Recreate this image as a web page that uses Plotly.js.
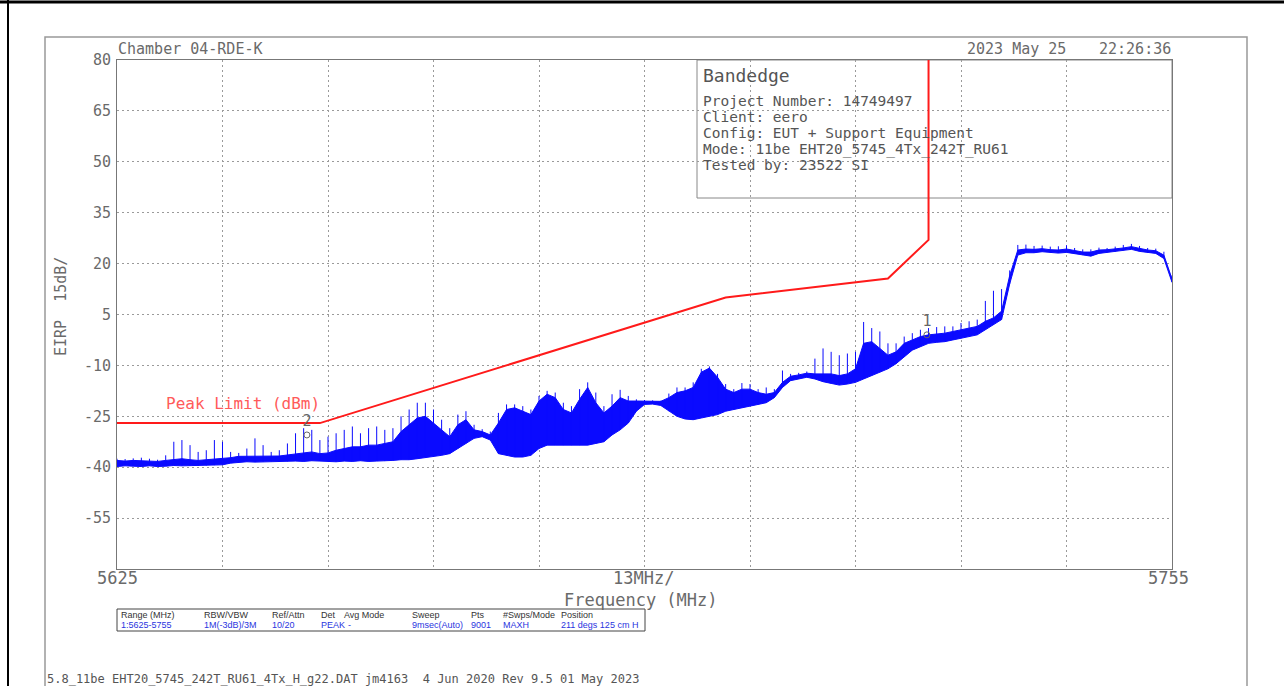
<!DOCTYPE html>
<html><head><meta charset="utf-8">
<script src="https://cdn.plot.ly/plotly-3.0.1.min.js"></script>
<style>html,body{margin:0;padding:0;background:#fff;overflow:hidden}#chart{width:1284px;height:686px}</style>
</head><body><div id="chart"></div>
<script>
// ---- data ----
const freq = [5625,5626,5627,5628,5629,5630,5631,5632,5633,5634,
5635,5636,5637,5638,5639,5640,5641,5642,5643,5644,
5645,5646,5647,5648,5649,5650,5651,5652,5653,5654,
5655,5656,5657,5658,5659,5660,5661,5662,5663,5664,
5665,5666,5667,5668,5669,5670,5671,5672,5673,5674,
5675,5676,5677,5678,5679,5680,5681,5682,5683,5684,
5685,5686,5687,5688,5689,5690,5691,5692,5693,5694,
5695,5696,5697,5698,5699,5700,5701,5702,5703,5704,
5705,5706,5707,5708,5709,5710,5711,5712,5713,5714,
5715,5716,5717,5718,5719,5720,5721,5722,5723,5724,
5725,5726,5727,5728,5729,5730,5731,5732,5733,5734,
5735,5736,5737,5738,5739,5740,5741,5742,5743,5744,
5745,5746,5747,5748,5749,5750,5751,5752,5753,5754,5755];
const floorLvl = [-39.8,-39.6,-39.7,-39.8,-39.6,-39.8,-39.7,-39.5,-39.6,-39.5,
-39.6,-39.5,-39.4,-39.3,-38.8,-38.5,-38.4,-38.5,-38.4,-38.3,
-38.4,-38.3,-38.2,-38.3,-38.1,-38.2,-38.3,-38.4,-38.2,-38.3,
-38.1,-38.3,-38.2,-38.2,-38.0,-37.8,-37.8,-37.5,-37.2,-36.8,
-36.5,-36.0,-34.5,-33.0,-31.5,-31.0,-32.0,-36.0,-36.5,-37.0,
-37.0,-36.5,-34.5,-33.5,-33.5,-33.5,-33.5,-33.5,-33.5,-33.0,
-32.5,-30.5,-29.0,-27.0,-23.5,-21.5,-21.4,-21.8,-23.5,-25.0,
-25.8,-26.0,-25.5,-25.0,-24.5,-23.5,-23.0,-22.5,-22.0,-21.5,
-21.0,-19.5,-16.5,-14.5,-14.0,-13.5,-14.0,-14.8,-15.3,-15.8,
-15.5,-15.0,-14.0,-13.0,-12.0,-11.0,-9.5,-7.5,-5.5,-4.5,
-3.5,-3.2,-3.0,-2.5,-2.0,-1.5,-1.0,0.5,2.0,3.5,
14.0,22.5,23.2,23.2,23.5,23.2,23.1,23.3,23.0,22.5,
22.2,23.0,23.3,23.5,23.9,24.2,23.6,23.2,23.0,21.5,14.5];
const bodyLvl = [-38.0,-38.2,-38.0,-38.1,-38.0,-38.3,-38.0,-37.8,-37.5,-37.8,
-38.0,-37.8,-37.6,-37.5,-37.2,-36.8,-36.8,-36.6,-36.8,-36.8,
-36.7,-36.4,-36.0,-35.8,-35.5,-36.0,-35.8,-35.0,-34.5,-34.0,
-34.0,-33.5,-33.5,-33.0,-32.5,-29.5,-27.5,-25.5,-25.0,-27.0,
-29.0,-31.0,-27.5,-26.0,-29.0,-29.5,-30.5,-27.0,-23.0,-22.5,
-23.5,-24.5,-20.5,-18.5,-19.5,-23.0,-24.0,-20.0,-16.5,-21.0,
-24.0,-22.0,-19.5,-20.5,-20.5,-20.6,-20.7,-20.6,-19.5,-18.0,
-17.5,-16.5,-12.0,-10.8,-13.5,-17.0,-18.0,-17.0,-17.0,-18.0,
-18.5,-18.0,-15.0,-13.2,-12.8,-12.3,-12.5,-12.5,-12.5,-13.0,
-12.5,-11.0,-3.5,-3.0,-5.0,-7.0,-6.0,-3.5,-2.5,-1.5,
-1.0,-0.8,-0.5,0.0,0.5,1.0,1.5,3.0,4.0,6.0,
16.5,24.0,24.3,24.2,24.4,24.1,24.0,24.3,23.9,23.4,
23.4,24.0,24.1,24.3,24.6,25.0,24.5,24.0,23.8,22.5,15.5];
const peakLvl = [-37.5,-37.6,-37.4,-37.2,-37.5,-37.8,-36.5,-32.5,-32.0,-33.5,
-35.5,-35.0,-32.0,-32.5,-35.5,-35.8,-34.5,-31.5,-33.5,-35.5,
-35.0,-33.0,-30.0,-28.5,-29.0,-32.0,-31.0,-30.0,-29.0,-28.0,
-30.0,-28.5,-28.0,-29.0,-28.5,-25.0,-23.0,-21.0,-21.0,-23.0,
-26.0,-28.5,-24.5,-23.5,-27.5,-28.8,-29.5,-24.0,-21.5,-21.5,
-22.0,-23.0,-19.0,-17.5,-18.0,-21.0,-22.0,-17.0,-15.0,-18.0,
-22.0,-18.5,-17.2,-19.0,-20.0,-20.2,-20.3,-20.4,-18.3,-16.5,
-16.5,-15.0,-11.0,-10.3,-12.5,-15.5,-17.0,-15.2,-15.5,-17.0,
-16.5,-17.0,-11.5,-12.5,-12.2,-11.8,-8.0,-5.0,-6.0,-7.0,
-6.5,-6.0,2.8,1.0,0.0,-3.5,-3.5,-1.5,-0.5,0.5,
1.0,1.3,1.5,1.5,2.5,3.0,3.5,9.0,12.0,12.5,
18.0,25.5,25.6,25.2,25.3,25.0,25.1,25.4,24.6,24.2,
24.2,24.7,24.6,25.0,25.5,25.8,25.2,24.6,24.4,23.5,16.5];
const limitFreq = [5625, 5650, 5700, 5720, 5725, 5725];
const limitLvl = [-27, -27, 10, 15.6, 27, 80];
const markerFreq = [5724.8, 5648.4];
const markerLvl = [-1.0, -30.5];
const markerLabel = ['1', '2'];
const yTickVals = [80, 65, 50, 35, 20, 5, -10, -25, -40, -55];
const xGridVals = [5638, 5651, 5664, 5677, 5690, 5703, 5716, 5729, 5742];
const xLabels = ['5625', '13MHz/', '5755'];
const infoTitle = 'Bandedge';
const infoLines = ['Project Number: 14749497', 'Client: eero', 'Config: EUT + Support Equipment',
  'Mode: 11be EHT20_5745_4Tx_242T_RU61', 'Tested by: 23522 SI'];
const setHeaders = ['Range (MHz)', 'RBW/VBW', 'Ref/Attn', 'Det', 'Avg Mode', 'Sweep', 'Pts', '#Swps/Mode', 'Position'];
const setValues = ['1:5625-5755', '1M(-3dB)/3M', '10/20', 'PEAK', '-', '9msec(Auto)', '9001', 'MAXH', '211 degs 125 cm H'];

// ---- layout helpers (pixel -> paper) ----
const L = 117, R = 1172, T = 60, B = 569;
const P = x => (x - L) / (R - L);
const Q = y => (B - y) / (B - T);
const MONO = 'DejaVu Sans Mono, monospace';
const NARROW = 'Liberation Sans Narrow, Arial Narrow, sans-serif';
const BLUE = '#0a0aff';

// vertical spikes built from the arrays: floor -> peak at every sample
const spX = [], spY = [];
for (let i = 0; i < freq.length; i++) { spX.push(freq[i], freq[i], null); spY.push(floorLvl[i], peakLvl[i], null); }

const traces = [
  {x: freq, y: floorLvl, mode: 'lines', line: {color: BLUE, width: 1}, hoverinfo: 'skip'},
  {x: freq, y: bodyLvl, mode: 'lines', fill: 'tonexty', fillcolor: BLUE, line: {color: BLUE, width: 1}, hoverinfo: 'skip'},
  {x: spX, y: spY, mode: 'lines', line: {color: BLUE, width: 1}, connectgaps: false, hoverinfo: 'skip'},
  {x: limitFreq, y: limitLvl, mode: 'lines', line: {color: '#ff1a1a', width: 2}, hoverinfo: 'skip'},
  {x: markerFreq, y: markerLvl, mode: 'markers+text', text: markerLabel, textposition: 'top center',
   textfont: {family: MONO, size: 15, color: '#666'},
   marker: {symbol: 'circle-open', size: 6, color: '#666', line: {width: 1}}, hoverinfo: 'skip'}
];

const ann = [];
function txt(t, x, y, o) {
  ann.push(Object.assign({text: t, x: P(x), y: Q(y), xref: 'paper', yref: 'paper', showarrow: false,
    xanchor: 'left', yanchor: 'middle', font: {family: MONO, size: 15, color: '#6a6a6a'}}, o || {}));
}
txt('Chamber 04-RDE-K', 116, 49);
txt('2023 May 25', 1068, 49, {xanchor: 'right'});
txt('22:26:36', 1173, 49, {xanchor: 'right'});
txt(xLabels[0], 117, 578, {xanchor: 'center', font: {family: MONO, size: 17, color: '#6a6a6a'}});
txt(xLabels[1], 643, 578, {xanchor: 'center', font: {family: MONO, size: 17, color: '#6a6a6a'}});
txt(xLabels[2], 1168, 578, {xanchor: 'center', font: {family: MONO, size: 17, color: '#6a6a6a'}});
txt('Frequency (MHz)', 641, 600, {xanchor: 'center', font: {family: MONO, size: 17, color: '#6a6a6a'}});
txt('EIRP\u00a0\u00a015dB/', 61, 307, {xanchor: 'center', textangle: -90, font: {family: MONO, size: 15, color: '#6a6a6a'}});
txt('Peak Limit (dBm)', 164, 403, {font: {family: MONO, size: 16, color: '#ff5a5a'}});
txt(infoTitle, 701, 76, {font: {family: MONO, size: 18, color: '#555'}});
infoLines.forEach((s, i) => txt(s, 701, 101 + 16 * i, {font: {family: MONO, size: 14.5, color: '#555'}}));
const colX = [119, 202, 270, 319, 342, 410, 469, 501, 559];
setHeaders.forEach((s, i) => txt(s, colX[i], 615, {font: {family: NARROW, size: 9, color: '#333'}}));
setValues.forEach((s, i) => txt(s, colX[i] + (s === '-' ? 4 : 0), 625, {font: {family: NARROW, size: 9, color: '#2a35e0'}}));
txt('5.8_11be EHT20_5745_242T_RU61_4Tx_H_g22.DAT jm4163\u00a0\u00a04 Jun 2020 Rev 9.5 01 May 2023', 45, 679,
    {font: {family: MONO, size: 12, color: '#555'}});

const shapes = [
  {type: 'line', xref: 'paper', yref: 'paper', x0: P(0), x1: P(1284), y0: Q(2), y1: Q(2), line: {color: '#000', width: 3}},
  {type: 'line', xref: 'paper', yref: 'paper', x0: P(8), x1: P(8), y0: Q(0), y1: Q(686), line: {color: '#000', width: 2}},
  {type: 'rect', xref: 'paper', yref: 'paper', x0: P(45), x1: P(1247), y0: Q(37), y1: Q(692), line: {color: '#999', width: 1.5}},
  {type: 'rect', xref: 'paper', yref: 'paper', x0: P(697), x1: P(1172), y0: Q(198), y1: Q(60), layer: 'between',
   fillcolor: '#fff', line: {color: '#888', width: 1}},
  {type: 'rect', xref: 'paper', yref: 'paper', x0: P(117), x1: P(645), y0: Q(631), y1: Q(609), line: {color: '#444', width: 1}}
];

const layout = {
  width: 1284, height: 686, showlegend: false,
  paper_bgcolor: '#fff', plot_bgcolor: '#fff',
  margin: {l: L, r: 1284 - R, t: T, b: 686 - B, pad: 0},
  xaxis: {range: [5625, 5755], tickvals: xGridVals, showticklabels: false, ticks: '',
    showgrid: true, gridcolor: '#9a9a9a', griddash: '2px,3px', gridwidth: 1, zeroline: false,
    showline: true, mirror: true, linecolor: '#777', linewidth: 1, fixedrange: true},
  yaxis: {range: [-70, 80], tickvals: yTickVals, ticktext: yTickVals.map(String), ticks: '',
    tickfont: {family: MONO, size: 15, color: '#6a6a6a'}, ticklabelstandoff: 2,
    showgrid: true, gridcolor: '#9a9a9a', griddash: '2px,3px', gridwidth: 1, zeroline: false,
    showline: true, mirror: true, linecolor: '#777', linewidth: 1, fixedrange: true},
  annotations: ann, shapes: shapes
};
Plotly.newPlot('chart', traces, layout, {staticPlot: true, displayModeBar: false});
</script></body></html>
